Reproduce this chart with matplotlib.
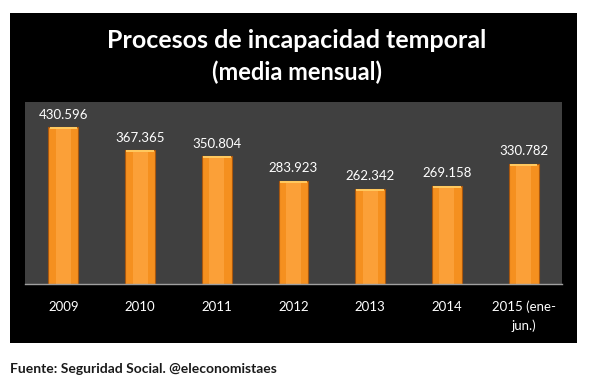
import numpy as np
import matplotlib
matplotlib.use("Agg")
import matplotlib.pyplot as plt
from matplotlib.patches import Rectangle

# data
years = ["2009", "2010", "2011", "2012", "2013", "2014", "2015 (ene-\njun.)"]
values = [430.596, 367.365, 350.804, 283.923, 262.342, 269.158, 330.782]
value_labels = ["430.596", "367.365", "350.804", "283.923", "262.342", "269.158", "330.782"]

plt.rcParams['font.family'] = ['Lato', 'DejaVu Sans']

W, H = 593, 390
fig = plt.figure(figsize=(W / 100, H / 100), dpi=100, facecolor='white')

# black panel behind everything
fig.patches.append(Rectangle((10 / W, 1 - 343 / H), 567 / W, 330 / H,
                             transform=fig.transFigure, facecolor='black',
                             edgecolor='none', zorder=-5))

fig.text(297 / W, 1 - 41 / H, "Procesos de incapacidad temporal", color='white',
         fontsize=18, fontweight='bold', ha='center', va='center')
fig.text(297 / W, 1 - 72 / H, "(media mensual)", color='white',
         fontsize=17, fontweight='bold', ha='center', va='center')

ax = fig.add_axes([25 / W, 1 - 284 / H, 537 / W, 182 / H])
ax.set_zorder(1)
ax.set_facecolor('#404040')

x = np.arange(len(years))
bw = 0.39
ax.bar(x, values, width=bw, color='#F5901F', edgecolor='#A8570F', linewidth=0.8, zorder=2)
# lighter centre stripe and cap to mimic the bevelled look
ax.bar(x, values, width=bw * 0.5, color='#FBA038', edgecolor='none', zorder=2.5)
cap = 6
ax.bar(x, [cap] * len(values), bottom=np.array(values) - cap, width=bw * 0.92,
       color='#FFC85E', edgecolor='none', zorder=3)

for xi, v, lab in zip(x, values, value_labels):
    ax.text(xi, v + 18, lab, color='white', fontsize=9.5, ha='center', va='bottom')

ax.set_xlim(-0.5, len(years) - 0.5)
ax.set_ylim(0, 500)
ax.set_xticks(x)
ax.set_xticklabels(years, color='white', fontsize=9.5, linespacing=1.6)
ax.tick_params(axis='x', length=0, pad=12)
ax.set_yticks([])
for s in ['top', 'right', 'left']:
    ax.spines[s].set_visible(False)
ax.spines['bottom'].set_color('#A0A0A0')
ax.spines['bottom'].set_linewidth(1)

fig.text(10 / W, 1 - 369 / H, "Fuente: Seguridad Social. @eleconomistaes", color='#1a1a1a',
         fontsize=10, fontweight='bold', ha='left', va='center')

fig.savefig("out.png", dpi=100, facecolor='white')
